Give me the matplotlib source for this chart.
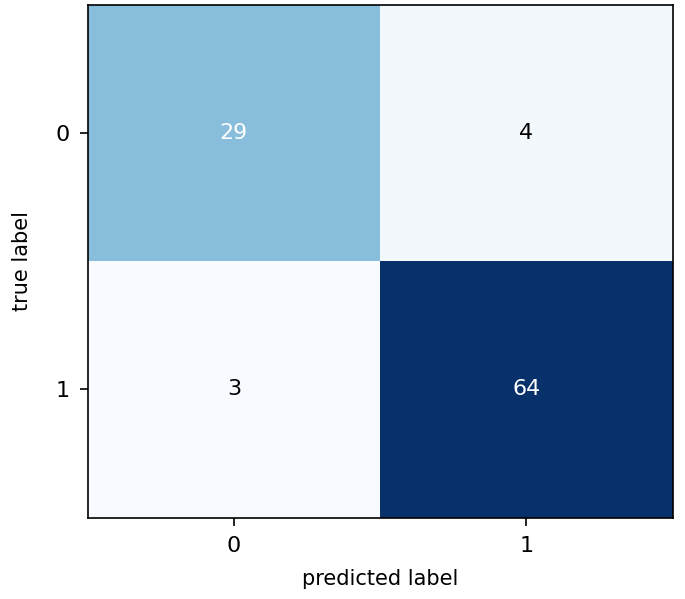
import numpy as np
import matplotlib.pyplot as plt

# confusion matrix values
classes = ['0', '1']
conf_mat = np.array([[29, 4],
                     [3, 64]])

fig = plt.figure(figsize=(6.85, 5.99), dpi=100)
ax = fig.add_axes([0.128, 0.136, 0.854, 0.856])
# colour scale runs from the smallest to the largest count
ax.imshow(conf_mat, cmap='Blues')

for i in range(conf_mat.shape[0]):
    for j in range(conf_mat.shape[1]):
        val = conf_mat[i, j]
        color = 'white' if val > 20 else 'black'
        ax.text(j, i, str(val), ha='center', va='center', color=color, fontsize=16)

ax.set_xticks(range(len(classes)))
ax.set_yticks(range(len(classes)))
ax.set_xticklabels(classes, fontsize=16)
ax.set_yticklabels(classes, fontsize=16)
ax.set_xlabel('predicted label', fontsize=15, labelpad=10)
ax.set_ylabel('true label', fontsize=15, labelpad=17)
ax.set_aspect('auto')
ax.tick_params(length=6, width=1.2, pad=7)
for s in ax.spines.values():
    s.set_linewidth(1.2)

fig.savefig('out.png', dpi=100)
